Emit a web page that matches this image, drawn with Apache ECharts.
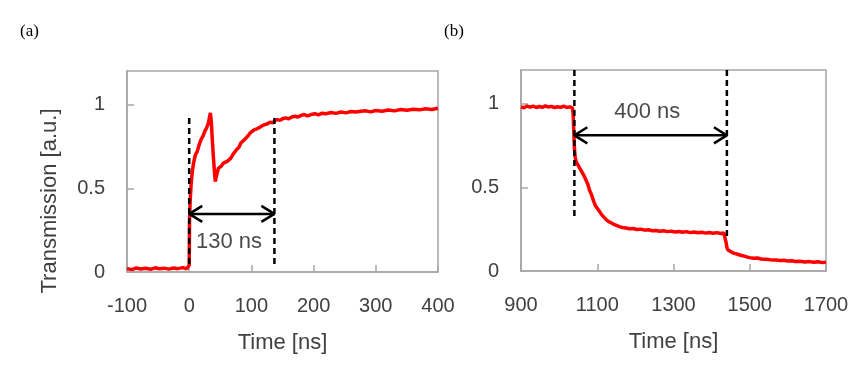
<!DOCTYPE html>
<html><head><meta charset="utf-8">
<script src="https://cdn.jsdelivr.net/npm/echarts@6/dist/echarts.min.js"></script>
<style>html,body{margin:0;padding:0;background:#fff}#c{width:855px;height:370px}</style>
</head><body><div id="c"></div>
<script>
// ---- data ----
var timeA = [-100,-92,-85,-78,-70,-62,-55,-48,-40,-33,-25,-18,-10,-4,-1,0,0.5,1.5,3,5,7,10,13,16,19,22,25,28,31,34,35.5,37,39,41,42,43.5,45,47,49,51,53,55,58,61,64,67,70,73,76,80,83,86,89,92,95,98,101,105,109,114,118,122,126,130,134,138,142,146,150,155,160,165,170,175,180,185,190,196,202,208,214,220,228,236,244,252,260,268,276,284,292,300,310,320,330,340,350,360,370,380,390,400];
var transA = [0.020,0.014,0.024,0.018,0.022,0.016,0.025,0.019,0.023,0.017,0.024,0.020,0.026,0.019,0.022,0.040,0.30,0.42,0.52,0.60,0.65,0.70,0.72,0.76,0.79,0.81,0.84,0.86,0.89,0.95,0.90,0.80,0.68,0.58,0.54,0.57,0.59,0.62,0.61,0.63,0.64,0.65,0.645,0.66,0.665,0.68,0.70,0.715,0.73,0.745,0.77,0.78,0.79,0.80,0.815,0.83,0.835,0.85,0.855,0.865,0.875,0.88,0.885,0.895,0.89,0.905,0.91,0.905,0.915,0.92,0.915,0.925,0.93,0.925,0.935,0.94,0.932,0.94,0.945,0.938,0.948,0.945,0.952,0.947,0.955,0.95,0.958,0.955,0.96,0.962,0.956,0.964,0.96,0.967,0.962,0.97,0.966,0.972,0.968,0.975,0.97,0.978];
var timeB = [900,908,916,924,932,940,948,956,964,972,980,988,996,1004,1012,1020,1028,1035,1037,1038,1039,1040,1042,1045,1050,1055,1060,1065,1070,1075,1080,1085,1090,1095,1100,1106,1112,1118,1124,1130,1136,1142,1150,1158,1166,1175,1184,1194,1204,1214,1224,1234,1244,1254,1264,1274,1284,1294,1304,1314,1324,1334,1344,1354,1364,1374,1384,1394,1404,1414,1424,1432,1436,1438,1440,1443,1448,1454,1460,1468,1476,1484,1492,1500,1510,1520,1530,1540,1550,1560,1570,1580,1590,1600,1610,1620,1632,1644,1656,1668,1680,1690,1700];
var transB = [0.980,0.975,0.985,0.978,0.984,0.976,0.982,0.977,0.986,0.979,0.983,0.975,0.981,0.977,0.984,0.976,0.980,0.974,0.93,0.86,0.80,0.74,0.68,0.65,0.63,0.61,0.59,0.57,0.545,0.52,0.48,0.455,0.42,0.39,0.375,0.355,0.335,0.32,0.305,0.295,0.288,0.28,0.272,0.265,0.26,0.257,0.252,0.254,0.248,0.25,0.244,0.246,0.24,0.242,0.237,0.24,0.235,0.238,0.233,0.236,0.231,0.235,0.229,0.233,0.228,0.231,0.226,0.23,0.225,0.229,0.224,0.227,0.222,0.17,0.14,0.125,0.118,0.11,0.105,0.1,0.094,0.09,0.084,0.08,0.076,0.078,0.072,0.07,0.068,0.065,0.066,0.062,0.064,0.059,0.061,0.057,0.058,0.054,0.056,0.052,0.055,0.05,0.053];
var xTicksA = [-100,0,100,200,300,400];
var xTicksB = [900,1100,1300,1500,1700];
var yTicks = [0,0.5,1];
// annotations (data space)
var markA = {start:0, end:137, arrowY:0.347, dashTop:0.92, dashBottom:0.03, label:'130 ns', labelX:64, labelY:0.18};
var markB = {start:1040, end:1440, arrowY:0.81, dashTop1:1.2, dashBottom1:0.316, dashTop2:1.2, dashBottom2:0.2, label:'400 ns', labelX:1231, labelY:0.95};

function zip(a,b){return a.map(function(v,i){return [v,b[i]];});}

var FONT = '"Liberation Sans", Arial, sans-serif';
var GRAY = '#a6a6a6';
var TXT = '#404040';
function plain(v){return String(v);}

function xAxisCfg(idx, min, max, ticks){
  return {type:'value', gridIndex:idx, min:min, max:max,
    name:'Time [ns]', nameLocation:'middle', nameGap:60,
    nameTextStyle:{fontFamily:FONT, fontSize:22, color:TXT},
    axisLine:{show:true, onZero:false, lineStyle:{color:GRAY, width:1.5}},
    axisTick:{show:true, inside:true, length:7, lineStyle:{color:GRAY, width:1.5}, customValues:ticks},
    axisLabel:{fontFamily:FONT, fontSize:20, color:TXT, margin:24, formatter:plain, customValues:ticks},
    splitLine:{show:false}};
}
function yAxisCfg(idx){
  return {type:'value', gridIndex:idx, min:0, max:1.2,
    axisLine:{show:true, onZero:false, lineStyle:{color:GRAY, width:1.5}},
    axisTick:{show:true, inside:true, length:7, lineStyle:{color:GRAY, width:1.5}, customValues:yTicks},
    axisLabel:{fontFamily:FONT, fontSize:20, color:TXT, margin:22, formatter:plain, customValues:yTicks},
    splitLine:{show:false}};
}
function lineS(ax, data, style){
  return {type:'line', xAxisIndex:ax, yAxisIndex:ax, data:data, symbol:'none', silent:true,
    animation:false, lineStyle:style, z:5};
}
var dashStyle = {color:'#000', width:2.5, type:[6,4]};
var solidStyle = {color:'#000', width:2.5};

var chevA = 21, chevB = 34, chevH = 0.048;

var option = {
  animation:false,
  backgroundColor:'#fff',
  grid:[
    {left:127, top:71, width:311, height:201, show:true, borderColor:GRAY, borderWidth:1.5},
    {left:521, top:70, width:305, height:201, show:true, borderColor:GRAY, borderWidth:1.5}
  ],
  xAxis:[xAxisCfg(0,-100,400,xTicksA), xAxisCfg(1,900,1700,xTicksB)],
  yAxis:[yAxisCfg(0), yAxisCfg(1)],
  series:[
    {type:'line', xAxisIndex:0, yAxisIndex:0, data:zip(timeA,transA), symbol:'none', lineStyle:{color:'#ff0000', width:3.5}, z:3},
    {type:'line', xAxisIndex:1, yAxisIndex:1, data:zip(timeB,transB), symbol:'none', lineStyle:{color:'#ff0000', width:3.5}, z:3},
    // panel a annotations
    lineS(0, [[markA.start,markA.dashTop],[markA.start,markA.dashBottom]], dashStyle),
    lineS(0, [[markA.end,markA.dashTop],[markA.end,markA.dashBottom]], dashStyle),
    lineS(0, [[markA.start,markA.arrowY],[markA.end,markA.arrowY]], solidStyle),
    lineS(0, [[markA.start+chevA,markA.arrowY+chevH],[markA.start,markA.arrowY],[markA.start+chevA,markA.arrowY-chevH]], solidStyle),
    lineS(0, [[markA.end-chevA,markA.arrowY+chevH],[markA.end,markA.arrowY],[markA.end-chevA,markA.arrowY-chevH]], solidStyle),
    {type:'scatter', xAxisIndex:0, yAxisIndex:0, data:[[markA.labelX,markA.labelY]], symbolSize:0, silent:true,
      label:{show:true, position:'inside', formatter:markA.label, fontFamily:FONT, fontSize:22, color:'#1a1a1a'}},
    // panel b annotations
    lineS(1, [[markB.start,markB.dashTop1],[markB.start,markB.dashBottom1]], dashStyle),
    lineS(1, [[markB.end,markB.dashTop2],[markB.end,markB.dashBottom2]], dashStyle),
    lineS(1, [[markB.start,markB.arrowY],[markB.end,markB.arrowY]], solidStyle),
    lineS(1, [[markB.start+chevB,markB.arrowY+chevH],[markB.start,markB.arrowY],[markB.start+chevB,markB.arrowY-chevH]], solidStyle),
    lineS(1, [[markB.end-chevB,markB.arrowY+chevH],[markB.end,markB.arrowY],[markB.end-chevB,markB.arrowY-chevH]], solidStyle),
    {type:'scatter', xAxisIndex:1, yAxisIndex:1, data:[[markB.labelX,markB.labelY]], symbolSize:0, silent:true,
      label:{show:true, position:'inside', formatter:markB.label, fontFamily:FONT, fontSize:22, color:'#1a1a1a'}}
  ],
  graphic:[
    {type:'text', x:50, y:201, rotation:Math.PI/2,
      style:{text:'Transmission [a.u.]', font:'22px ' + FONT, fill:TXT, textAlign:'center', textVerticalAlign:'middle'}},
    {type:'text', x:20, y:32, style:{text:'(a)', font:'17px "Liberation Serif", serif', fill:'#000', textVerticalAlign:'middle'}},
    {type:'text', x:444, y:32, style:{text:'(b)', font:'17px "Liberation Serif", serif', fill:'#000', textVerticalAlign:'middle'}}
  ]
};
var chart = echarts.init(document.getElementById('c'), null, {renderer:'canvas'});
chart.setOption(option);
</script>
</body></html>
